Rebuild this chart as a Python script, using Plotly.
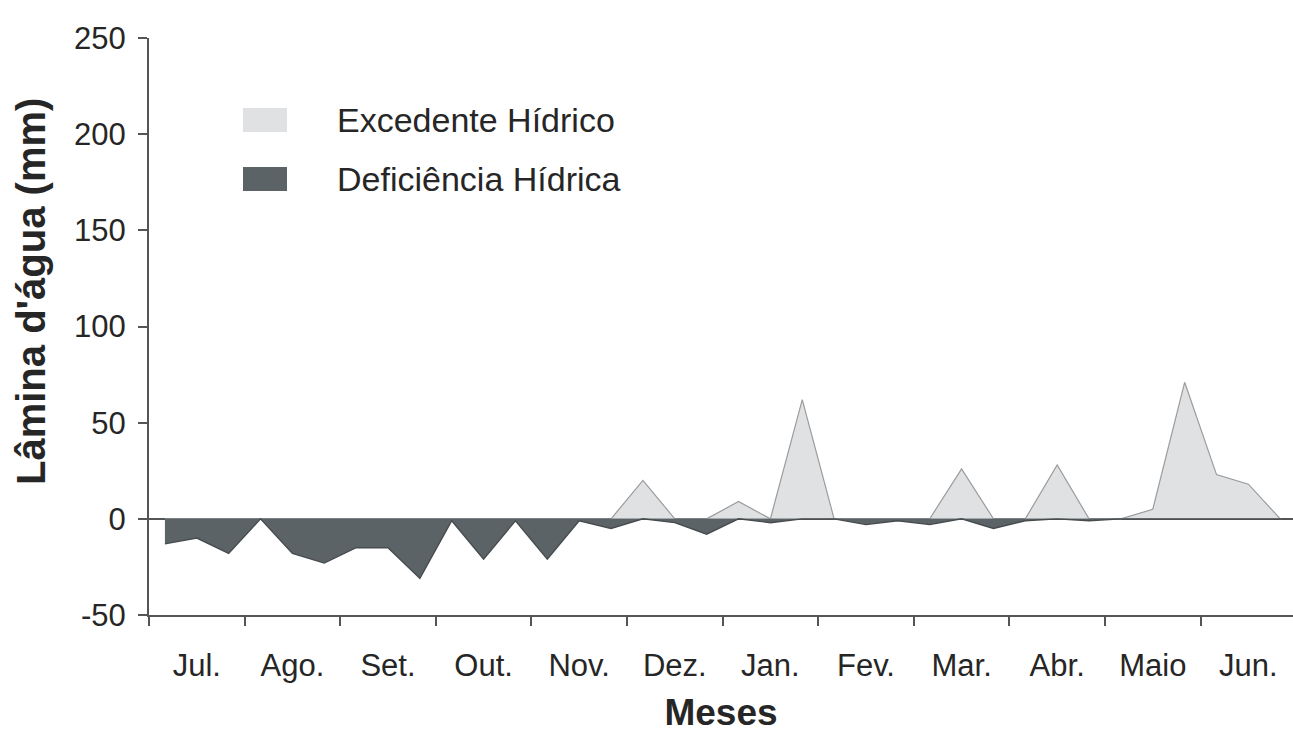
import plotly.graph_objects as go

# Monthly labels (hydrological year, July to June), three 10-day periods each
months = ["Jul.", "Ago.", "Set.", "Out.", "Nov.", "Dez.",
          "Jan.", "Fev.", "Mar.", "Abr.", "Maio", "Jun."]

# Water surplus per 10-day period (mm)
excedente = [0, 0, 0,   0, 0, 0,   0, 0, 0,   0, 0, 0,   0, 0, 0,
             20, 0, 0,  9, 0, 62,  0, 0, 0,   0, 26, 0,  0, 28, 0,
             0, 5, 71,  23, 18, 0]

# Water deficit per 10-day period (mm)
deficiencia = [-13, -10, -18,  0, -18, -23,  -15, -15, -31,  -1, -21, -1,
               -21, -1, -5,    0, -2, -8,    0, -2, 0,       0, -3, -1,
               -3, 0, -5,      -1, 0, -1,    0, 0, 0,        0, 0, 0]

y_ticks = [-50, 0, 50, 100, 150, 200, 250]
y_tick_text = ["-50", "0", "50", "100", "150", "200", "250"]

periods = [i + 0.5 for i in range(len(excedente))]
month_centers = [3 * i + 1.5 for i in range(len(months))]

W, H = 1293, 740
L, R, T, B = 149, 0, 38, 125
FONT = "Liberation Sans, Arial, sans-serif"
TXT = "#262626"
AX = "#555555"

fig = go.Figure()
fig.add_trace(go.Scatter(
    x=periods, y=excedente, mode="lines", fill="tozeroy",
    fillcolor="#dfe1e3", line=dict(color="#9a9c9e", width=1.2),
    name="Excedente Hídrico", showlegend=False, hoverinfo="skip"))
fig.add_trace(go.Scatter(
    x=periods, y=deficiencia, mode="lines", fill="tozeroy",
    fillcolor="#5c6366", line=dict(color="#474c4f", width=1.4),
    name="Deficiência Hídrica", showlegend=False, hoverinfo="skip"))

pw = W - L - R
ph = H - T - B


def px_x(p):
    return (p - L) / pw


def px_y(p):
    return (H - B - p) / ph


# Legend drawn as swatches with labels
legend_items = [("Excedente Hídrico", "#dfe1e3", 108, 132),
                ("Deficiência Hídrica", "#5c6366", 167, 191)]
for label, color, y0, y1 in legend_items:
    fig.add_shape(type="rect", xref="paper", yref="paper",
                  x0=px_x(243), x1=px_x(287), y0=px_y(y1), y1=px_y(y0),
                  fillcolor=color, line=dict(width=0))
    fig.add_annotation(xref="paper", yref="paper", x=px_x(335),
                       y=px_y((y0 + y1) / 2), text=label, showarrow=False,
                       xanchor="left", yanchor="middle",
                       font=dict(family=FONT, size=34, color=TXT))

# Y-axis title
fig.add_annotation(xref="paper", yref="paper", x=px_x(31), y=px_y(292),
                   text="<b>Lâmina d'água (mm)</b>", textangle=-90,
                   showarrow=False, xanchor="center", yanchor="middle",
                   font=dict(family=FONT, size=40, color=TXT))

fig.update_layout(
    width=W, height=H,
    margin=dict(l=L, r=R, t=T, b=B, pad=0),
    paper_bgcolor="white", plot_bgcolor="white",
    showlegend=False,
    font=dict(family=FONT, color=TXT),
    xaxis=dict(
        range=[0, 35.9], tickmode="array", tickvals=month_centers,
        ticktext=months, ticks="outside", ticklen=0, tickcolor="white",
        tickfont=dict(size=31, color=TXT), ticklabelstandoff=22,
        minor=dict(tick0=0, dtick=3, ticks="outside", ticklen=9,
                   tickwidth=2, tickcolor=AX),
        showline=True, linecolor=AX, linewidth=2,
        showgrid=False, zeroline=False,
        title=dict(text="<b>Meses</b>", standoff=17,
                   font=dict(family=FONT, size=37, color=TXT)),
    ),
    yaxis=dict(
        range=[-50, 250], tickmode="array", tickvals=y_ticks,
        ticktext=y_tick_text,
        ticks="outside", ticklen=9, tickwidth=2, tickcolor=AX,
        tickfont=dict(size=31, color=TXT), ticklabelstandoff=6,
        showline=True, linecolor=AX, linewidth=2,
        showgrid=False, zeroline=True, zerolinecolor=AX, zerolinewidth=2,
    ),
)

fig.write_html("out.html")
